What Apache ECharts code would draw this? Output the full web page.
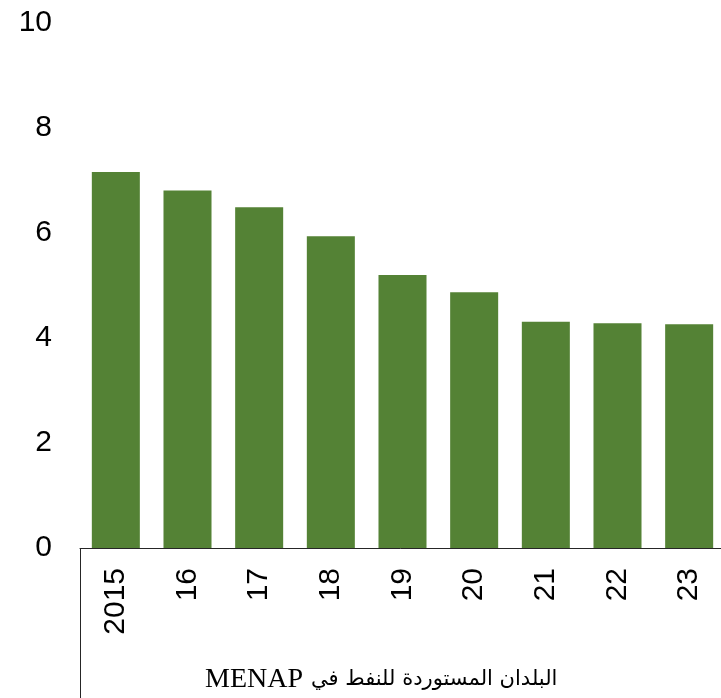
<!DOCTYPE html>
<html>
<head>
<meta charset="utf-8">
<script src="https://cdn.jsdelivr.net/npm/echarts@6/dist/echarts.min.js"></script>
<style>
  html, body { margin: 0; padding: 0; background: #fff; }
  #chart { width: 721px; height: 698px; }
</style>
</head>
<body>
<div id="chart"></div>
<script>
// data
var years = ['2015', '16', '17', '18', '19', '20', '21', '22', '23'];
var values = [7.16, 6.81, 6.49, 5.94, 5.20, 4.87, 4.31, 4.28, 4.26];
var yTicks = [0, 2, 4, 6, 8, 10];
var groupLatin = 'MENAP';
var groupArabic = 'البلدان المستوردة للنفط في';

var myChart = echarts.init(document.getElementById('chart'), null, {renderer: 'canvas'});

var option = {
    animation: false,
    backgroundColor: '#fff',
    grid: {
        left: 80,
        top: 23,
        width: 645,
        height: 525,
        outerBoundsMode: 'none'
    },
    xAxis: {
        type: 'category',
        data: years,
        axisLine: { show: true, lineStyle: { color: '#262626', width: 1 } },
        axisTick: { show: false },
        axisLabel: {
            rotate: 90,
            margin: 20,
            color: '#000',
            fontSize: 30,
            fontFamily: 'Liberation Sans, Arial, sans-serif'
        }
    },
    yAxis: {
        type: 'value',
        min: yTicks[0],
        max: yTicks[yTicks.length - 1],
        interval: 2,
        axisLine: { show: false },
        axisTick: { show: false },
        splitLine: { show: false },
        axisLabel: {
            margin: 28,
            color: '#000',
            fontSize: 30,
            fontFamily: 'Liberation Sans, Arial, sans-serif'
        }
    },
    series: [
        {
            name: groupLatin,
            type: 'bar',
            data: values,
            barCategoryGap: '33%',
            itemStyle: { color: '#548235' }
        }
    ],
    graphic: [
        {
            type: 'line',
            shape: { x1: 80.5, y1: 548, x2: 80.5, y2: 698 },
            style: { stroke: '#262626', lineWidth: 1 }
        },
        {
            // latin word sits left of the arabic phrase (RTL reading)
            type: 'text',
            left: 205,
            top: 666,
            style: {
                text: '{a|' + groupLatin + '}{s| }{b|' + groupArabic + '}',
                fill: '#000',
                rich: {
                    a: { fontSize: 28, fontFamily: '"Liberation Serif", "Times New Roman", serif', fill: '#000' },
                    s: { width: 8, fontSize: 21 },
                    b: { fontSize: 21, fontFamily: '"DejaVu Sans", sans-serif', fill: '#000' }
                }
            }
        }
    ]
};
myChart.setOption(option);
</script>
</body>
</html>
